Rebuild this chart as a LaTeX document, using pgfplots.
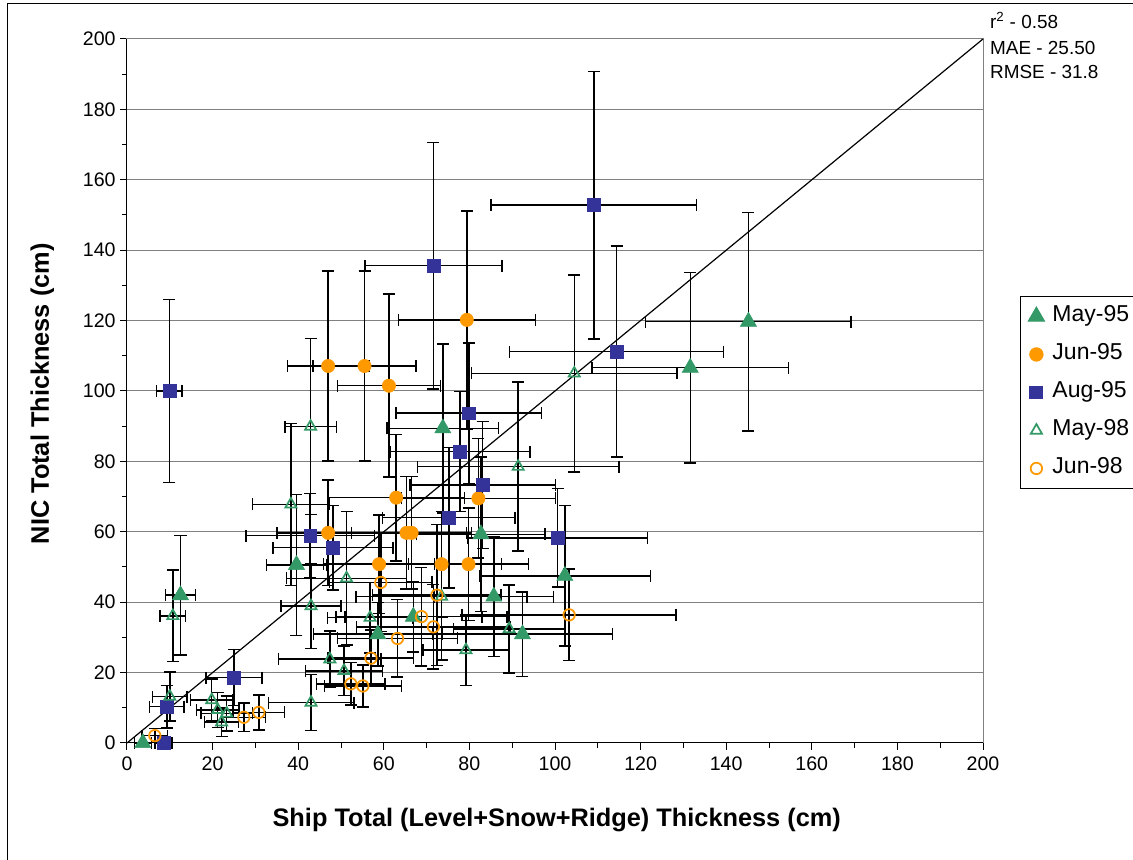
\documentclass[border=0pt]{standalone}
\usepackage{fontspec}
\setmainfont{Liberation Sans}
\usepackage{pgfplots}
\pgfplotsset{compat=1.18}
\usepackage{pgfplotstable}
\definecolor{sgreen}{RGB}{51,153,102}
\definecolor{sorange}{RGB}{255,153,0}
\definecolor{sblue}{RGB}{51,51,153}
\definecolor{gridgray}{RGB}{128,128,128}

\pgfplotstableread{
x y ex ey
3.7 0 2 0
12.5 42 3.5 17
39.6 50.6 7 20
73.8 89.4 13 24
82.7 59.3 15 22
58.6 30.9 15 9
66.9 35.9 16 10
85.7 41.6 14 17
92.4 30.9 21 12
102.3 47.5 20 20
131.6 106.6 23 27
145.2 119.7 24 31
}\mayA

\pgfplotstableread{
x y ex ey
47 107.1 9.5 27
55.5 107.1 12 27
79.4 120.2 16 31
61.2 101.5 12 26
62.9 69.7 16 18
47 59.7 12 15
65.3 59.7 14 16
66.5 59.7 14 16
58.9 50.8 13 14
82.1 69.5 18 17
73.5 50.8 14 15
79.8 50.8 14 16
}\junA

\pgfplotstableread{
x y ex ey
9.9 100 3 26
109.1 152.8 24 38
71.6 135.6 16 35
114.4 111.2 25 30
79.9 93.7 17 20
77.8 82.8 16.4 17
83.1 73.3 17 18
42.8 58.9 15 12
48.1 55.5 14 12
25 18.6 6.5 8
9.3 10.3 4 6
8.5 0 2 0
75.2 64 15.5 20
100.6 58.3 21 14
}\augA

\pgfplotstableread{
x y ex ey
38.3 67.8 9 23
43 38.9 7 12
10.7 36.1 3 13
51.3 46.8 14 19
56.8 35.6 10 10
47.4 23.8 12 8
50.7 20.5 9 7
43 11.5 10 8
10 13.2 4 7
19.8 12.2 5 6
21.2 9.4 5 5
23.3 8.4 6 5
22.1 5.9 4 4
42.9 89.9 6 25
104.5 105 24 28
91.4 78.5 23.5 24
73.5 41.6 20 18
89.3 32.4 13 12.5
79.2 26.4 10 10
}\mayB

\pgfplotstableread{
x y ex ey
59.3 45.6 12 14
63.2 29.7 14 11
57 24.1 10 8
52.3 16.8 8 6
55.1 16.2 9 6
27.3 7.3 5 4
30.8 8.7 6 5
6.5 2.1 3 2
72.4 42 15 20
68.8 35.9 20 14
71.6 33 18 12
103.3 36.4 25 13
}\junB

\begin{document}
\begin{tikzpicture}
\useasboundingbox (0,0) rectangle (849.75pt,645pt);
\draw[black, line width=0.75pt] (5.25pt,-5pt) -- (5.25pt,642pt) -- (860pt,642pt);
\begin{axis}[
  at={(95.25pt,87.75pt)}, anchor=south west,
  scale only axis, width=642pt, height=528pt,
  xmin=0, xmax=200, ymin=0, ymax=200,
  xtick distance=20, ytick distance=20,
  minor x tick num=1, minor y tick num=1,
  tick pos=left, tick align=outside,
  major tick length=5pt, minor tick length=3.5pt,
  every tick/.style={black, line width=0.75pt},
  ymajorgrids, grid style={gridgray, line width=0.75pt},
  axis line style={gridgray, line width=0.75pt},
  clip=false,
  ticklabel style={font=\fontsize{14.7}{17}\selectfont},
  xticklabel style={yshift=-2pt},
  /pgf/number format/assume math mode=true,
  xlabel={Ship Total (Level+Snow+Ridge) Thickness (cm)},
  ylabel={NIC Total Thickness (cm)},
  label style={font=\bfseries\fontsize{19}{22}\selectfont},
  xlabel style={at={(axis description cs:0.502,-0.109)}, anchor=center},
  ylabel style={at={(axis description cs:-0.099,0.496)}, anchor=center},
  legend style={at={(axis description cs:1.043,0.635)}, anchor=north west,
    draw=black, line width=0.75pt, font=\fontsize{17.25}{20}\selectfont,
    inner xsep=6pt, inner ysep=7pt, row sep=12.5pt, column sep=4pt,
    nodes={inner ysep=0pt, text height=12pt, text depth=4pt}},
  legend cell align=left,
  legend image code/.code={\draw[#1] plot coordinates {(0pt,0pt)};},
  error bars/error bar style={black, line width=1.1pt},
  error bars/error mark options={black, mark size=4.5pt, line width=1.1pt, rotate=90},
]
\addplot[black, line width=0.9pt, forget plot] coordinates {(0,0) (200,200)};
\draw[black, line width=0.75pt] (rel axis cs:0,0) -- (rel axis cs:0,1);
\draw[black, line width=0.75pt] (rel axis cs:0,0) -- (rel axis cs:1,0);

\addplot[only marks, mark=triangle*, mark size=7pt, color=sgreen,
  error bars/.cd, x dir=both, x explicit, y dir=both, y explicit]
  table[x=x, y=y, x error=ex, y error=ey] {\mayA};
\addlegendentry{\makebox[80pt][l]{May-95}}

\addplot[only marks, mark=*, mark size=5pt, color=sorange,
  error bars/.cd, x dir=both, x explicit, y dir=both, y explicit]
  table[x=x, y=y, x error=ex, y error=ey] {\junA};
\addlegendentry{\makebox[80pt][l]{Jun-95}}

\addplot[only marks, mark=square*, mark size=4.8pt, color=sblue,
  error bars/.cd, x dir=both, x explicit, y dir=both, y explicit]
  table[x=x, y=y, x error=ex, y error=ey] {\augA};
\addlegendentry{\makebox[80pt][l]{Aug-95}}

\addplot[only marks, mark=triangle, mark size=4.8pt, color=sgreen,
  mark options={fill=white, line width=1.3pt},
  error bars/.cd, x dir=both, x explicit, y dir=both, y explicit]
  table[x=x, y=y, x error=ex, y error=ey] {\mayB};
\addlegendentry{\makebox[80pt][l]{May-98}}

\addplot[only marks, mark=o, mark size=4.3pt, color=sorange,
  mark options={fill=white, line width=1.3pt},
  error bars/.cd, x dir=both, x explicit, y dir=both, y explicit]
  table[x=x, y=y, x error=ex, y error=ey] {\junB};
\addlegendentry{\makebox[80pt][l]{Jun-98}}

\node[anchor=west, font=\fontsize{14.2}{16}\selectfont, inner sep=0pt] at (rel axis cs:1.008,1.027) {r\textsuperscript{2} - 0.58};
\node[anchor=west, font=\fontsize{14.2}{16}\selectfont, inner sep=0pt] at (rel axis cs:1.008,0.987) {MAE - 25.50};
\node[anchor=west, font=\fontsize{14.2}{16}\selectfont, inner sep=0pt] at (rel axis cs:1.008,0.953) {RMSE - 31.8};
\end{axis}
\end{tikzpicture}
\end{document}
